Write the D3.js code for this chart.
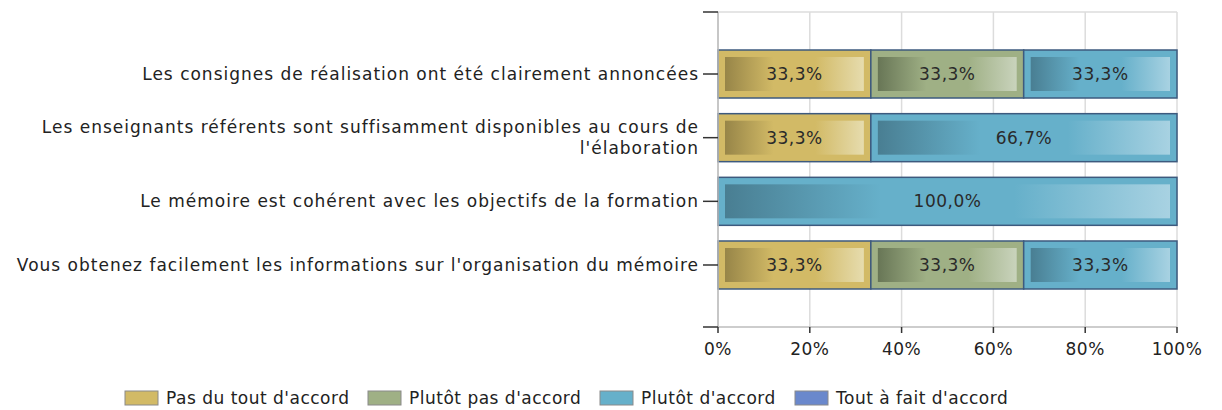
<!DOCTYPE html>
<html>
<head>
<meta charset="utf-8">
<script src="https://cdn.jsdelivr.net/npm/d3@7"></script>
<style>
  body { margin: 0; background: #fff; }
  svg { display: block; font-family: "DejaVu Sans", sans-serif; }
</style>
</head>
<body>
<svg id="chart" width="1222" height="410"></svg>
<script>
// Values
const questions = [
	["Les consignes de réalisation ont été clairement annoncées"],
	["Les enseignants référents sont suffisamment disponibles au cours de", "l'élaboration"],
	["Le mémoire est cohérent avec les objectifs de la formation"],
	["Vous obtenez facilement les informations sur l'organisation du mémoire"],
];
const categories = ["Pas du tout d'accord", "Plutôt pas d'accord", "Plutôt d'accord", "Tout à fait d'accord"];
const pasDuTout = [33.3, 33.3, 0, 33.3];
const plutotPas = [33.3, 0, 0, 33.3];
const plutot = [33.3, 66.7, 100, 33.3];
const toutAFait = [0, 0, 0, 0];
const xTicks = [0, 20, 40, 60, 80, 100];

const colors = ["#d2ba66", "#9fb085", "#66b0ca", "#6a88cc"];
const darks = ["#978548", "#687656", "#497e92", "#4a63a0"];
const lights = ["#e6dcae", "#c9d3bc", "#a8d2e2", "#b0c2ea"];

const margin = { left: 718, right: 45, top: 12, bottom: 83 };
const width = 1222, height = 410;

const svg = d3.select("#chart");
const defs = svg.append("defs");
colors.forEach((c, i) => {
	const g = defs.append("linearGradient").attr("id", "grad" + i)
		.attr("x1", 0).attr("x2", 1).attr("y1", 0).attr("y2", 0);
	g.append("stop").attr("offset", "0%").attr("stop-color", darks[i]);
	g.append("stop").attr("offset", "35%").attr("stop-color", c);
	g.append("stop").attr("offset", "65%").attr("stop-color", c);
	g.append("stop").attr("offset", "100%").attr("stop-color", lights[i]);
});

const x = d3.scaleLinear().domain([0, 100]).range([margin.left, width - margin.right]);
const y = d3.scalePoint().domain(d3.range(questions.length))
	.range([margin.top, height - margin.bottom]).padding(0.974);
const barH = 48;

// grid
svg.append("g").selectAll("line").data(xTicks).join("line")
	.attr("x1", d => x(d)).attr("x2", d => x(d))
	.attr("y1", margin.top).attr("y2", height - margin.bottom)
	.attr("stroke", "#dcdcdc").attr("stroke-width", 1.5);
svg.append("line")
	.attr("x1", x(0)).attr("x2", x(100)).attr("y1", margin.top).attr("y2", margin.top)
	.attr("stroke", "#dcdcdc").attr("stroke-width", 1.5);

// bars
const series = [pasDuTout, plutotPas, plutot, toutAFait];
const rows = questions.map((q, i) => {
	let acc = 0;
	return series.map((s, k) => {
		const seg = { row: i, cat: k, x0: acc, x1: acc + s[i], v: s[i] };
		acc += s[i];
		return seg;
	}).filter(d => d.v > 0);
});
// last segment should end at 100
rows.forEach(r => { r[r.length - 1].x1 = 100; });

const seg = svg.append("g").selectAll(".seg").data(rows.flat()).join("g").classed("seg", true);
seg.append("rect")
	.attr("x", d => x(d.x0)).attr("width", d => x(d.x1) - x(d.x0))
	.attr("y", d => y(d.row) - barH / 2).attr("height", barH)
	.attr("fill", d => colors[d.cat]).attr("stroke", "#3d5a7e").attr("stroke-width", 1.5);
seg.append("rect")
	.attr("x", d => x(d.x0) + 7).attr("width", d => x(d.x1) - x(d.x0) - 14)
	.attr("y", d => y(d.row) - barH / 2 + 7).attr("height", barH - 14)
	.attr("fill", d => `url(#grad${d.cat})`);
seg.append("text")
	.attr("x", d => (x(d.x0) + x(d.x1)) / 2).attr("y", d => y(d.row))
	.attr("dy", "0.35em").attr("text-anchor", "middle")
	.attr("font-size", 17).attr("letter-spacing", 0.5).attr("fill", "#2a2a2a")
	.text(d => d.v.toFixed(1).replace(".", ",") + "%");

// y axis
svg.append("line")
	.attr("x1", x(0)).attr("x2", x(0)).attr("y1", margin.top).attr("y2", height - margin.bottom)
	.attr("stroke", "#bdbdbd").attr("stroke-width", 1.5);
svg.append("line")
	.attr("x1", x(0)).attr("x2", x(100)).attr("y1", height - margin.bottom).attr("y2", height - margin.bottom)
	.attr("stroke", "#bdbdbd").attr("stroke-width", 1.5);
const yTicks = [margin.top, ...questions.map((q, i) => y(i)), height - margin.bottom];
svg.append("g").selectAll("line").data(yTicks).join("line")
	.attr("x1", x(0) - 15).attr("x2", x(0)).attr("y1", d => d).attr("y2", d => d)
	.attr("stroke", "#333").attr("stroke-width", 1.5);

const yl = svg.append("g").selectAll("text").data(questions).join("text")
	.attr("x", x(0) - 20).attr("text-anchor", "end")
	.attr("font-size", 17).attr("letter-spacing", 1).attr("fill", "#222")
	.attr("y", (d, i) => y(i) - (d.length - 1) * 10.5)
	.attr("dy", "0.35em");
yl.selectAll("tspan").data(d => d).join("tspan")
	.attr("x", x(0) - 19).attr("dy", (d, i) => i === 0 ? "0.35em" : 21)
	.text(d => d);

// x axis
svg.append("g").selectAll("line").data(xTicks).join("line")
	.attr("x1", d => x(d)).attr("x2", d => x(d))
	.attr("y1", height - margin.bottom).attr("y2", height - margin.bottom + 6)
	.attr("stroke", "#333").attr("stroke-width", 1.5);
svg.append("g").selectAll("text").data(xTicks).join("text")
	.attr("x", d => x(d)).attr("y", height - margin.bottom + 28)
	.attr("text-anchor", "middle").attr("font-size", 17).attr("letter-spacing", 0.5).attr("fill", "#222")
	.text(d => d + "%");

// legend
const legendX = [125, 368, 600, 795];
const lg = svg.append("g").selectAll("g").data(categories).join("g")
	.attr("transform", (d, i) => `translate(${legendX[i]},391)`);
lg.append("rect").attr("width", 33).attr("height", 14)
	.attr("fill", (d, i) => colors[i]).attr("stroke", "#8a8a8a");
lg.append("text").attr("x", 41).attr("y", 13)
	.attr("font-size", 17).attr("letter-spacing", 0.5).attr("fill", "#222").text(d => d);
</script>
</body>
</html>
